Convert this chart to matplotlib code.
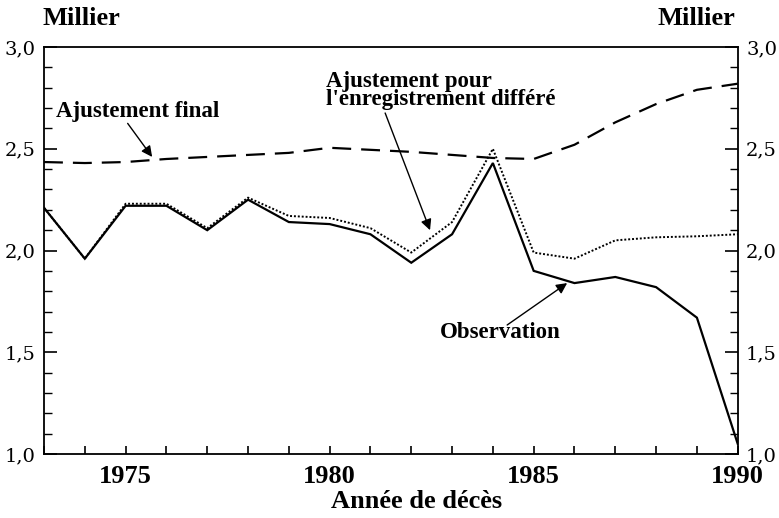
import matplotlib
matplotlib.use("Agg")
import matplotlib.pyplot as plt
from matplotlib.ticker import MultipleLocator, FuncFormatter, FixedLocator

years = list(range(1973, 1991))
observation = [2.21, 1.96, 2.22, 2.22, 2.10, 2.25, 2.14, 2.13, 2.08, 1.94, 2.08, 2.43,
               1.90, 1.84, 1.87, 1.82, 1.67, 1.05]
ajust_differe = [2.21, 1.96, 2.23, 2.23, 2.11, 2.26, 2.17, 2.16, 2.11, 1.99, 2.14, 2.50,
                 1.99, 1.96, 2.05, 2.065, 2.07, 2.08]
ajust_final = [2.435, 2.43, 2.435, 2.45, 2.46, 2.47, 2.48, 2.505, 2.495, 2.485, 2.47, 2.455,
               2.45, 2.52, 2.63, 2.72, 2.79, 2.82]
xticklabels = {1975: "1975", 1980: "1980", 1985: "1985", 1990: "1990"}

serif = ["Liberation Serif", "DejaVu Serif"]
lab_font = ["DejaVu Serif"]

fig = plt.figure(figsize=(7.79, 5.18), dpi=100)
ax = fig.add_axes([0.0565, 0.1236, 0.8905, 0.7855])

ax.plot(years, observation, color="black", lw=1.6, solid_joinstyle="miter")
ax.plot(years, ajust_differe, color="black", lw=1.4, linestyle=(0, (1, 1)))
ax.plot(years, ajust_final, color="black", lw=1.6, linestyle=(0, (8.5, 4.5)))

ax.set_xlim(1973, 1990)
ax.set_ylim(1.0, 3.0)

ax.xaxis.set_major_locator(FixedLocator(years))
ax.xaxis.set_major_formatter(FuncFormatter(lambda v, p: xticklabels.get(int(round(v)), "")))
ax.yaxis.set_major_locator(MultipleLocator(0.5))
ax.yaxis.set_minor_locator(MultipleLocator(0.1))
ax.yaxis.set_major_formatter(FuncFormatter(lambda v, p: f"{v:.1f}".replace(".", ",")))

ax.tick_params(axis="x", which="major", direction="in", length=6, width=1.2,
               top=False, bottom=True, labelsize=19, pad=8)
ax.tick_params(axis="y", which="major", direction="in", length=9.5, width=1.2,
               left=True, right=True, labelleft=True, labelright=True, labelsize=14, pad=6)
ax.tick_params(axis="y", which="minor", direction="in", length=6, width=1.0,
               left=True, right=True)
for lab in ax.get_xticklabels():
    lab.set_fontfamily(serif)
    lab.set_fontweight("bold")
for lab in ax.get_yticklabels():
    lab.set_fontfamily(lab_font)
for sp in ax.spines.values():
    sp.set_linewidth(1.3)

fs = 16.5
arrowprops = dict(arrowstyle="-|>", color="black", lw=1.0, mutation_scale=16,
                  shrinkA=0, shrinkB=0)

ax.text(1973.3, 2.685, "Ajustement final", fontsize=fs, fontweight="bold", family=serif,
        ha="left", va="center")
ax.annotate("", xy=(1975.65, 2.46), xytext=(1975.05, 2.625), arrowprops=arrowprops)

ax.text(1979.9, 2.785, "Ajustement pour\nl'enregistrement différé", fontsize=fs,
        fontweight="bold", family=serif, ha="left", va="center", linespacing=0.8)
ax.annotate("", xy=(1982.46, 2.10), xytext=(1981.36, 2.676), arrowprops=arrowprops)

ax.text(1984.18, 1.595, "Observation", fontsize=fs, fontweight="bold", family=serif,
        ha="center", va="center")
ax.annotate("", xy=(1985.82, 1.84), xytext=(1984.35, 1.634), arrowprops=arrowprops)

fig.text(0.055, 0.965, "Millier", fontsize=19, fontweight="bold", family=serif,
         ha="left", va="center")
fig.text(0.9435, 0.965, "Millier", fontsize=19, fontweight="bold", family=serif,
         ha="right", va="center")
fig.text(0.535, 0.031, "Année de décès", fontsize=19, fontweight="bold", family=serif,
         ha="center", va="center")

fig.savefig("out.png", dpi=100)
